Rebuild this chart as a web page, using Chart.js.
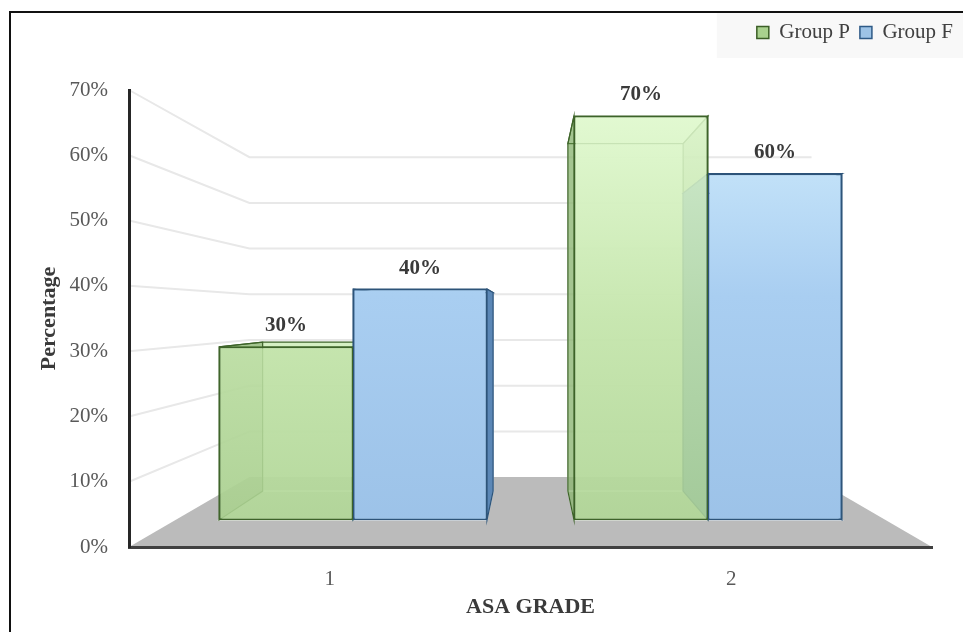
<!DOCTYPE html>
<html>
<head>
<meta charset="utf-8">
<script src="https://cdn.jsdelivr.net/npm/chart.js@4/dist/chart.umd.min.js"></script>
<style>
  html, body { margin: 0; padding: 0; background: #ffffff; }
  #wrap { width: 963px; height: 632px; position: relative; }
</style>
</head>
<body>
<div id="wrap"><canvas id="chart" width="963" height="632"></canvas></div>
<script>
// ---- data ----
const categories = ['1', '2'];
const groupP = [30, 70];
const groupF = [40, 60];
const seriesNames = ['Group P', 'Group F'];
const yMin = 0, yMax = 70, yStep = 10;

// ---- look ----
const SERIF = '"Liberation Serif", "Times New Roman", serif';
const greenStops = [[0, 'rgba(230,253,214,0.86)'], [0.5, 'rgba(196,229,171,0.86)'], [1, 'rgba(172,210,146,0.86)']];
const blueStops = [[0, '#d2eefd'], [0.45, '#a9cef1'], [1, '#9bc1e7']];
const legendFill = ['#a9d18e', '#9dc3e6'];
const legendStroke = ['#3b5e26', '#2e5a86'];
const faceStyle = [
  { side: 'rgba(104,150,76,0.5)', cap: 'rgba(205,236,184,0.6)', edge: 'rgba(240,252,232,0.8)', outline: '#3d6329' },
  { side: '#5b87b6', cap: '#b8d8f4', edge: 'rgba(220,238,252,0.8)', outline: '#2d5479' }
];

// Perspective: the plot recedes toward a vanishing point near the middle of the plot area.
const VP_FX = 0.5, VP_FY = 0.51;   // fractions of plot width / height (from the bottom)
const BAR_PLANE = 0.884;           // plane of the bars' front faces
const BAR_DEPTH = 0.86;            // back faces of the bars, relative to their front faces
const WALL_PLANE = 0.7;            // back wall and far edge of the floor
const PLOT_TOP = 90;               // top of the plot area
const LEGEND_TOP = 12;

// value range of a hidden scale so that it lays out the given plane
function planeRange(a, b, vpF, s) {
  const f0 = vpF - vpF / s, f1 = vpF + (1 - vpF) / s;
  return [a + f0 * (b - a), a + f1 * (b - a)];
}
const [y2Min, y2Max] = planeRange(yMin, yMax, VP_FY, BAR_PLANE);
const [x2Min, x2Max] = planeRange(0.5, categories.length + 0.5, VP_FX, BAR_PLANE);

function vGrad(ctx, stops) {
  const chart = ctx.chart, ca = chart.chartArea;
  if (!ca) return stops[stops.length - 1][1];
  const g = chart.ctx.createLinearGradient(0, ca.top, 0, ca.bottom);
  stops.forEach(([o, c]) => g.addColorStop(o, c));
  return g;
}

function vanishing(chart) {
  const ca = chart.chartArea;
  return { x: ca.left + VP_FX * (ca.right - ca.left), y: ca.bottom - VP_FY * (ca.bottom - ca.top) };
}
function toward(vp, s, px, py) {
  return [vp.x + s * (px - vp.x), vp.y + s * (py - vp.y)];
}
function poly(ctx, pts, fill, stroke, lw) {
  ctx.beginPath();
  ctx.moveTo(pts[0][0], pts[0][1]);
  for (let i = 1; i < pts.length; i++) ctx.lineTo(pts[i][0], pts[i][1]);
  ctx.closePath();
  if (fill) { ctx.fillStyle = fill; ctx.fill(); }
  if (stroke) { ctx.strokeStyle = stroke; ctx.lineWidth = lw || 1; ctx.stroke(); }
}

// frame, legend panel, floor, back-wall grid and the hidden faces of the boxes
const scenery = {
  id: 'scenery',
  afterLayout(chart) {
    // keep the legend pinned to the top edge of the frame
    const lg = chart.legend;
    if (lg) {
      const h = lg.bottom - lg.top;
      lg.top = LEGEND_TOP;
      lg.bottom = LEGEND_TOP + h;
    }
  },
  beforeDraw(chart) {
    const ctx = chart.ctx, ca = chart.chartArea;
    ctx.save();
    // frame
    ctx.strokeStyle = '#111111';
    ctx.lineWidth = 2;
    ctx.beginPath();
    ctx.moveTo(10, chart.height);
    ctx.lineTo(10, 12);
    ctx.lineTo(chart.width, 12);
    ctx.stroke();
    // legend panel
    const lg = chart.legend;
    if (lg && lg.legendHitBoxes && lg.legendHitBoxes.length) {
      const x0 = Math.min(...lg.legendHitBoxes.map(h => h.left)) - 40;
      ctx.fillStyle = '#f8f8f8';
      ctx.fillRect(x0, 13, chart.width - x0, lg.bottom + 5 - 13);
    }
    const vp = vanishing(chart);
    // floor
    const fl = toward(vp, WALL_PLANE, ca.left, ca.bottom);
    const fr = toward(vp, WALL_PLANE, ca.right, ca.bottom);
    poly(ctx, [[ca.left, ca.bottom], [ca.right, ca.bottom], fr, fl], '#bbbbbb');
    // grid lines running from the axis to the back wall
    const ys = chart.scales.y;
    ctx.strokeStyle = '#e8e8e8';
    ctx.lineWidth = 2;
    ys.ticks.forEach(t => {
      if (t.value === yMin) return;
      const py = ys.getPixelForValue(t.value);
      const a = toward(vp, WALL_PLANE, ca.left, py);
      const b = toward(vp, WALL_PLANE, ca.right, py);
      ctx.beginPath();
      ctx.moveTo(ca.left, py);
      ctx.lineTo(a[0], a[1]);
      ctx.lineTo(b[0], b[1]);
      ctx.stroke();
    });
    // hidden faces of every box (seen through or beside the front faces)
    chart.data.datasets.forEach((ds, di) => {
      const meta = chart.getDatasetMeta(di);
      const st = faceStyle[di];
      meta.data.forEach(el => {
        const p = el.getProps(['x', 'y', 'base', 'width'], true);
        const x1 = p.x - p.width / 2, x2 = p.x + p.width / 2;
        const P = (px, py) => toward(vp, BAR_DEPTH, px, py);
        const f = { tl: [x1, p.y], tr: [x2, p.y], br: [x2, p.base], bl: [x1, p.base] };
        const b = { tl: P(x1, p.y), tr: P(x2, p.y), br: P(x2, p.base), bl: P(x1, p.base) };
        poly(ctx, [b.tl, b.tr, b.br, b.bl], st.cap, st.edge, 1.2);
        poly(ctx, [f.bl, f.br, b.br, b.bl], st.cap, st.edge, 1.2);
        poly(ctx, [f.tl, f.tr, b.tr, b.tl], st.cap, st.outline, 1.2);
        poly(ctx, [f.tl, b.tl, b.bl, f.bl], st.side, st.outline, 1.2);
        poly(ctx, [f.tr, b.tr, b.br, f.br], st.side, st.outline, 1.2);
      });
    });
    ctx.restore();
  }
};

// value labels above the bars
const valueLabels = {
  id: 'valueLabels',
  afterDatasetsDraw(chart) {
    const ctx = chart.ctx;
    ctx.save();
    ctx.font = 'bold 21px ' + SERIF;
    ctx.fillStyle = '#3a3a3a';
    ctx.textAlign = 'center';
    ctx.textBaseline = 'middle';
    chart.data.datasets.forEach((ds, di) => {
      chart.getDatasetMeta(di).data.forEach((el, i) => {
        ctx.fillText(ds.data[i].y + '%', el.x, el.y - 21);
      });
    });
    ctx.restore();
  }
};

const datasets = [
  {
    label: seriesNames[0],
    data: groupP.map((v, i) => ({ x: i + 1, y: v })),
    backgroundColor: ctx => vGrad(ctx, greenStops),
    borderColor: '#3d6329'
  },
  {
    label: seriesNames[1],
    data: groupF.map((v, i) => ({ x: i + 1, y: v })),
    backgroundColor: ctx => vGrad(ctx, blueStops),
    borderColor: '#2d5479'
  }
].map(d => Object.assign(d, {
  xAxisID: 'x2', yAxisID: 'y2',
  borderWidth: 1.5, borderSkipped: false,
  categoryPercentage: 0.755, barPercentage: 1
}));

new Chart(document.getElementById('chart'), {
  type: 'bar',
  data: { datasets },
  plugins: [scenery, valueLabels],
  options: {
    responsive: false,
    animation: false,
    layout: { padding: { top: LEGEND_TOP, left: 0, right: 0, bottom: 0 } },
    plugins: {
      tooltip: { enabled: false },
      legend: {
        position: 'top',
        align: 'end',
        labels: {
          color: '#404040',
          font: { family: SERIF, size: 21 },
          boxWidth: 12, boxHeight: 12, padding: 10,
          generateLabels(chart) {
            return Chart.defaults.plugins.legend.labels.generateLabels(chart).map((it, i) =>
              Object.assign(it, { fillStyle: legendFill[i], strokeStyle: legendStroke[i], lineWidth: 1.5 }));
          }
        }
      }
    },
    scales: {
      x: {
        type: 'category',
        labels: categories,
        offset: true,
        position: 'bottom',
        z: 1,
        grid: { display: false, drawTicks: false },
        border: { display: true, color: '#404040', width: 3 },
        ticks: { color: '#595959', font: { family: SERIF, size: 21 }, padding: 20 },
        title: { display: true, text: 'ASA GRADE', color: '#3a3a3a',
                 font: { family: SERIF, size: 22, weight: 'bold' }, padding: { top: 0, bottom: 11 } },
        afterFit(s) { s.height = 85; s.paddingRight = 31; }
      },
      y: {
        type: 'linear',
        min: yMin, max: yMax,
        position: 'left',
        z: 1,
        grid: { display: false, drawTicks: false },
        border: { display: true, color: '#262626', width: 3 },
        ticks: { stepSize: yStep, callback: v => v + '%', color: '#595959',
                 font: { family: SERIF, size: 21 }, padding: 21 },
        title: { display: true, text: 'Percentage', color: '#3a3a3a',
                 font: { family: SERIF, size: 22, weight: 'bold' }, padding: { top: 36, bottom: 0 } },
        afterFit(s) { s.width = 129; s.paddingTop = PLOT_TOP; }
      },
      x2: {
        type: 'linear', display: false, offset: false, min: x2Min, max: x2Max,
        // one tick per category so the bar width follows the category spacing
        afterBuildTicks(s) { s.ticks = categories.map((c, i) => ({ value: i + 1 })); }
      },
      y2: { type: 'linear', display: false, min: y2Min, max: y2Max }
    }
  }
});
</script>
</body>
</html>
